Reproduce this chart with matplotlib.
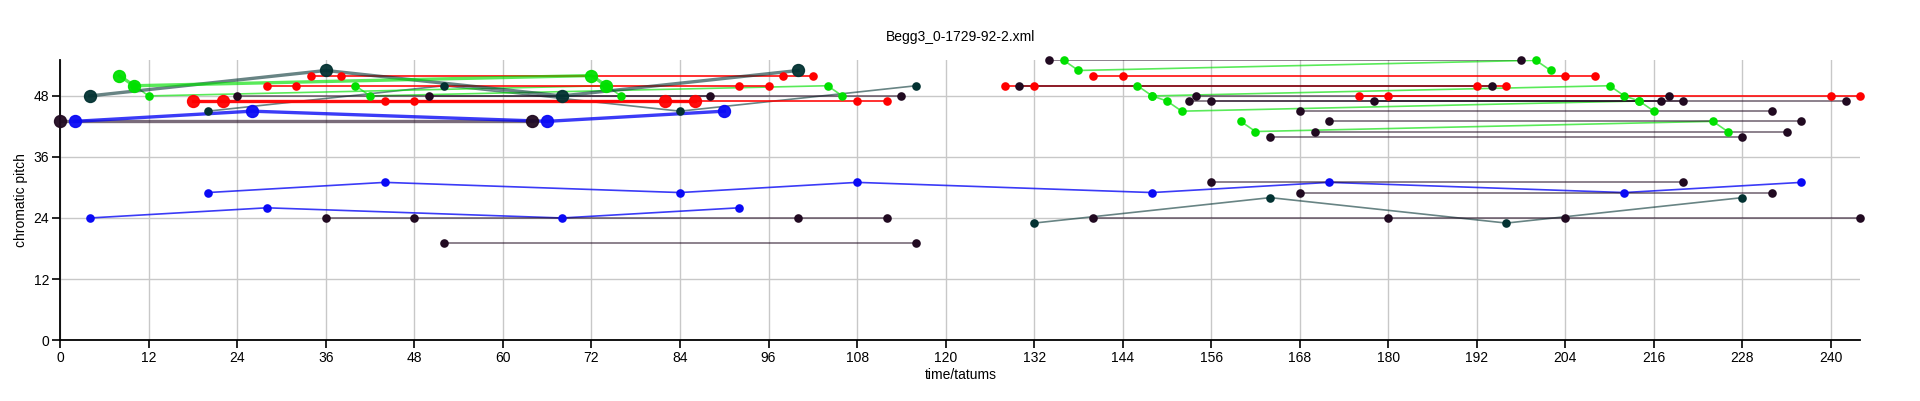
import matplotlib
matplotlib.use("Agg")
import matplotlib.pyplot as plt

plt.rcParams['font.family'] = ['Liberation Sans', 'DejaVu Sans']

TITLE = "Begg3_0-1729-92-2.xml"

PURPLE = '#210a21'
TEAL = '#033232'
BLUE = '#0a0af5'
GREEN = '#00e000'
RED = '#ff0000'

# streams drawn with big markers (first half, upper voice)
big_purple_t = [0, 64]
big_purple_p = [43, 43]
big_blue_t = [2, 26, 66, 90]
big_blue_p = [43, 45, 43, 45]
big_teal_t = [4, 36, 68, 100]
big_teal_p = [48, 53, 48, 53]
big_green_t = [8, 10, 72, 74]
big_green_p = [52, 50, 52, 50]
big_red_t = [18, 22, 82, 86]
big_red_p = [47, 47, 47, 47]

# small-marker streams, first half
teal_a_t = [20, 52, 84, 116]
teal_a_p = [45, 50, 45, 50]
green_a_t = [10, 12, 74, 76]
green_a_p = [50, 48, 50, 48]
green_b_t = [40, 42, 104, 106]
green_b_p = [50, 48, 50, 48]
red_a_t = [28, 32, 92, 96]
red_a_p = [50, 50, 50, 50]
red_b_t = [34, 38, 98, 102]
red_b_p = [52, 52, 52, 52]
red_c_t = [44, 48, 108, 112]
red_c_p = [47, 47, 47, 47]
purple_a_t = [24, 88]
purple_a_p = [48, 48]
purple_b_t = [50, 114]
purple_b_p = [48, 48]
blue_lo_t = [4, 28, 68, 92]
blue_lo_p = [24, 26, 24, 26]
blue_mid_t = [20, 44, 84, 108, 148, 172, 212, 236]
blue_mid_p = [29, 31, 29, 31, 29, 31, 29, 31]
purple_c_t = [36, 48, 100, 112]
purple_c_p = [24, 24, 24, 24]
purple_d_t = [52, 116]
purple_d_p = [19, 19]

# second half
red_d_t = [128, 132, 192, 196]
red_d_p = [50, 50, 50, 50]
purple_e_t = [130, 194]
purple_e_p = [50, 50]
purple_f_t = [134, 198]
purple_f_p = [55, 55]
green_c_t = [136, 138, 200, 202]
green_c_p = [55, 53, 55, 53]
red_e_t = [140, 144, 204, 208]
red_e_p = [52, 52, 52, 52]
green_d_t = [146, 148, 210, 212, 214, 216]
green_d_p = [50, 48, 50, 48, 47, 45]
green_e_t = [148, 150, 152, 214]
green_e_p = [48, 47, 45, 47]
purple_g_t = [153, 217]
purple_g_p = [47, 47]
purple_h_t = [154, 218]
purple_h_p = [48, 48]
purple_i_t = [156, 220]
purple_i_p = [47, 47]
green_f_t = [160, 162, 224, 226]
green_f_p = [43, 41, 43, 41]
purple_j_t = [164, 228]
purple_j_p = [40, 40]
purple_k_t = [168, 232]
purple_k_p = [45, 45]
purple_l_t = [170, 234]
purple_l_p = [41, 41]
purple_m_t = [172, 236]
purple_m_p = [43, 43]
red_f_t = [176, 180, 240, 244]
red_f_p = [48, 48, 48, 48]
purple_n_t = [178, 242]
purple_n_p = [47, 47]
teal_b_t = [132, 164, 196, 228]
teal_b_p = [23, 28, 23, 28]
purple_o_t = [140, 180, 204, 244]
purple_o_p = [24, 24, 24, 24]
purple_p_t = [156, 220]
purple_p_p = [31, 31]
purple_q_t = [168, 232]
purple_q_p = [29, 29]

small_streams = [
    (teal_a_t, teal_a_p, TEAL), (green_a_t, green_a_p, GREEN),
    (green_b_t, green_b_p, GREEN), (red_a_t, red_a_p, RED),
    (red_b_t, red_b_p, RED), (red_c_t, red_c_p, RED),
    (purple_a_t, purple_a_p, PURPLE), (purple_b_t, purple_b_p, PURPLE),
    (blue_lo_t, blue_lo_p, BLUE), (blue_mid_t, blue_mid_p, BLUE),
    (purple_c_t, purple_c_p, PURPLE), (purple_d_t, purple_d_p, PURPLE),
    (red_d_t, red_d_p, RED), (purple_e_t, purple_e_p, PURPLE),
    (purple_f_t, purple_f_p, PURPLE), (green_c_t, green_c_p, GREEN),
    (red_e_t, red_e_p, RED), (green_d_t, green_d_p, GREEN),
    (green_e_t, green_e_p, GREEN), (purple_g_t, purple_g_p, PURPLE),
    (purple_h_t, purple_h_p, PURPLE), (purple_i_t, purple_i_p, PURPLE),
    (green_f_t, green_f_p, GREEN), (purple_j_t, purple_j_p, PURPLE),
    (purple_k_t, purple_k_p, PURPLE), (purple_l_t, purple_l_p, PURPLE),
    (purple_m_t, purple_m_p, PURPLE), (red_f_t, red_f_p, RED),
    (purple_n_t, purple_n_p, PURPLE), (teal_b_t, teal_b_p, TEAL),
    (purple_o_t, purple_o_p, PURPLE), (purple_p_t, purple_p_p, PURPLE),
    (purple_q_t, purple_q_p, PURPLE),
]
big_streams = [
    (big_purple_t, big_purple_p, PURPLE), (big_blue_t, big_blue_p, BLUE),
    (big_teal_t, big_teal_p, TEAL), (big_green_t, big_green_p, GREEN),
    (big_red_t, big_red_p, RED),
]

line_alpha = {RED: 0.95, BLUE: 0.8, GREEN: 0.65, PURPLE: 0.6, TEAL: 0.6}

fig = plt.figure(figsize=(19.2, 4.01), dpi=100)
ax = fig.add_axes([0.0314, 0.152, 0.9376, 0.6976])

ticks = list(range(0, 241, 12))
ax.set_xticks(ticks)
ax.set_yticks(range(0, 49, 12))
ax.grid(True, color='#c8c8c8', linewidth=1.0, zorder=0)

for t, p, c in small_streams:
    ax.plot(t, p, '-', color=c, lw=1.2, alpha=line_alpha[c], zorder=2)
for t, p, c in big_streams:
    ax.plot(t, p, '-', color=c, lw=2.4, alpha=line_alpha[c], zorder=3)
for t, p, c in small_streams:
    ax.plot(t, p, 'o', color=c, ms=6.2, mec=c, mew=0, zorder=4, clip_on=False)
for t, p, c in big_streams:
    ax.plot(t, p, 'o', color=c, ms=8.6, mec=c, mew=1.0, alpha=0.95, zorder=5,
            clip_on=False)

ax.set_xlim(0, 244)
ax.set_ylim(0, 55)
for s in ('top', 'right'):
    ax.spines[s].set_visible(False)
for s in ('left', 'bottom'):
    ax.spines[s].set_linewidth(1.3)
ax.tick_params(direction='out', length=6, width=1.2, labelsize=10, pad=2)
ax.set_xlabel('time/tatums', fontsize=10, labelpad=2)
ax.set_ylabel('chromatic pitch', fontsize=10, labelpad=4)
ax.set_title(TITLE, fontsize=10, pad=14)

fig.savefig('out.png', dpi=100)
